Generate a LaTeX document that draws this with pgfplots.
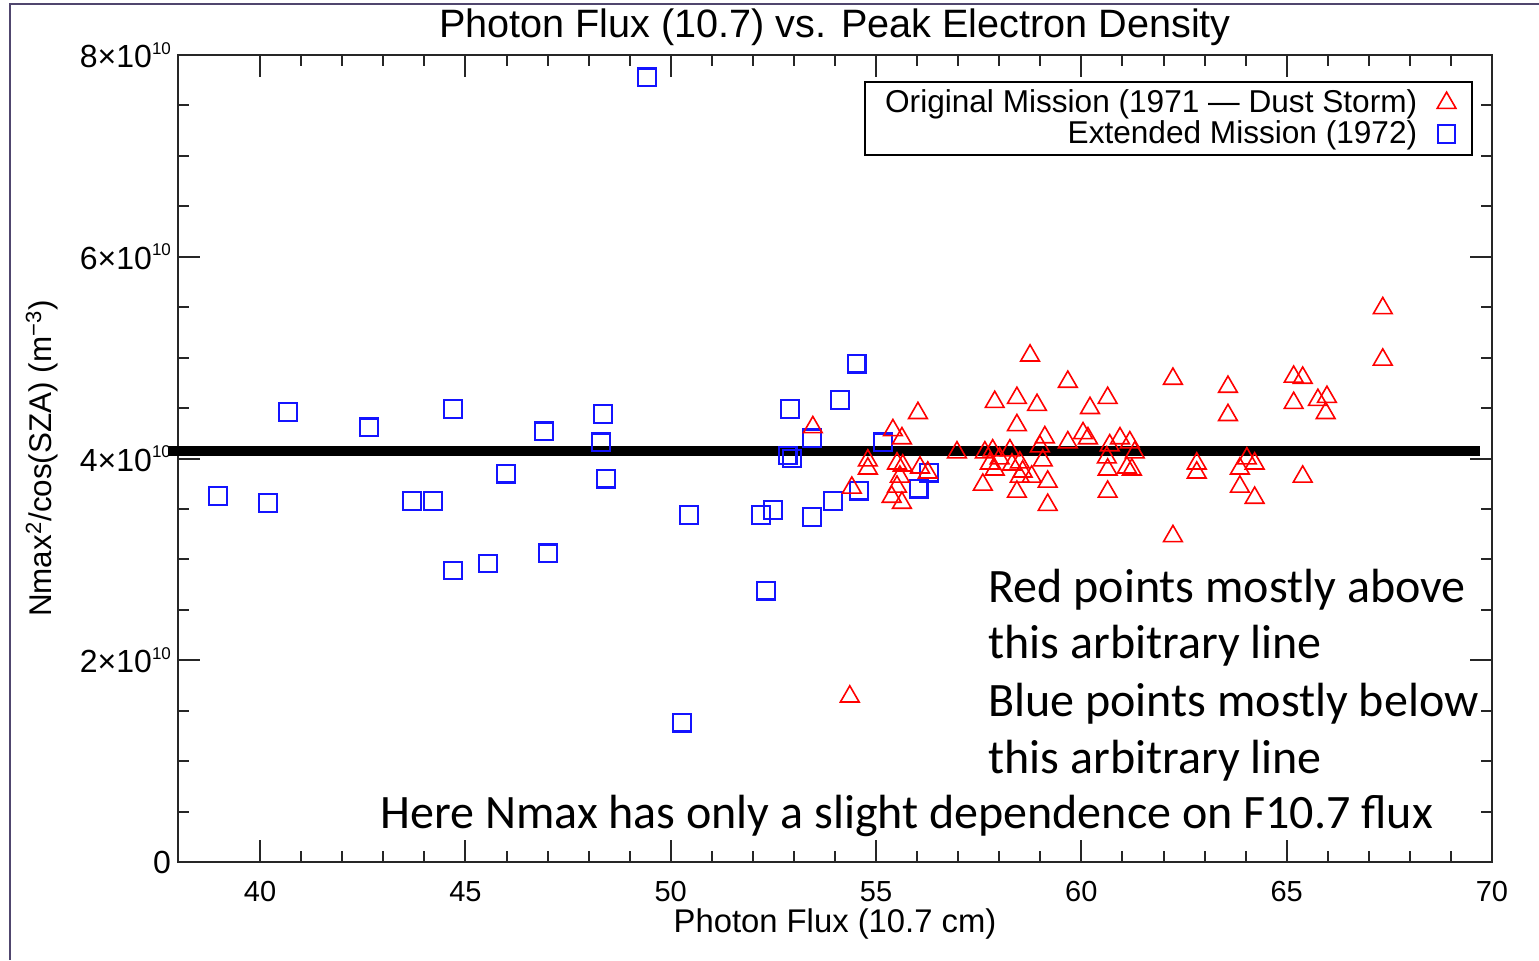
\documentclass[border=0pt]{standalone}
\usepackage{pgfplots}
\pgfplotsset{compat=1.18}
\usepackage{fontspec}
\setmainfont{Liberation Sans}
\newfontfamily\calibri{Carlito}
\definecolor{slideframe}{RGB}{80,70,110}
\definecolor{ptred}{RGB}{255,0,0}
\definecolor{ptblue}{RGB}{20,20,255}
\newcommand{\ytl}[1]{#1×10\raisebox{0.8ex}{\fontsize{8.5}{8.5}\selectfont 10}}
\begin{document}
\begin{tikzpicture}
\path[use as bounding box, fill=white] (0,0) rectangle (769.5pt,480pt);
\draw[slideframe, line width=1pt] (5pt,0) -- (5pt,478pt) -- (769.5pt,478pt);
\begin{axis}[
  at={(89pt,49pt)}, anchor=south west,
  width=657pt, height=403.5pt, scale only axis,
  xmin=38, xmax=70, ymin=0, ymax=8,
  xtick={40,45,...,70}, minor x tick num=4,
  ytick={0,2,4,6,8}, minor y tick num=3,
  yticklabels={0,\ytl{2},\ytl{4},\ytl{6},\ytl{8}},
  tick align=inside,
  major tick length=11pt, minor tick length=5.5pt,
  axis line style={line width=1pt, black!85},
  tick style={line width=1pt, black!85},
  tick label style={font=\fontsize{14.5}{14.5}\selectfont},
  yticklabel style={font=\fontsize{16}{16}\selectfont},
  /pgf/number format/assume math mode=true,
  xticklabel style={yshift=-6pt},
  clip=false,
  title={Photon Flux (10.7) vs. Peak Electron Density},
  every axis title/.style={font=\fontsize{19.8}{19.8}\selectfont, at={(axis description cs:0.5,1.0347)}, anchor=center},
  xlabel={Photon Flux (10.7 cm)},
  xlabel style={font=\fontsize{16.4}{16.4}\selectfont, at={(axis description cs:0.5,-0.0768)}, anchor=center},
  ylabel={Nmax\textsuperscript{2}/cos(SZA) (m\textsuperscript{−3})},
  ylabel style={font=\fontsize{15.7}{15.7}\selectfont, at={(axis description cs:-0.1035,0.5)}, anchor=center},
  legend style={at={(0.9855,0.9678)}, anchor=north east, draw=black, line width=1pt,
    font=\fontsize{15.8}{15.8}\selectfont, inner xsep=8pt, inner ysep=2pt, row sep=-1.5pt,
    /tikz/every odd column/.style={column sep=8pt}},
  legend cell align=right, legend plot pos=right, reverse legend,
]
\addplot[only marks, mark=square, mark size=4.4pt, ptblue, line width=1.1pt] table {
x y
38.97 3.63
40.19 3.56
40.68 4.46
42.65 4.31
43.70 3.58
44.21 3.58
44.70 4.49
44.70 2.89
45.55 2.96
45.99 3.85
46.91 4.27
47.01 3.06
48.35 4.44
48.30 4.16
48.42 3.80
49.42 7.78
50.27 1.38
50.44 3.44
52.20 3.44
52.32 2.69
52.49 3.49
52.85 4.03
52.95 4.00
52.90 4.49
53.44 3.42
53.44 4.20
53.95 3.58
54.12 4.58
54.53 4.94
54.58 3.68
55.17 4.16
56.04 3.70
56.29 3.86
};
\addlegendentry{Extended Mission (1972)}
\addplot[only marks, mark=triangle, mark size=5.4pt, ptred, line width=0.8pt] table {
x y
53.46 4.31
54.41 3.71
54.36 1.64
54.80 3.98
54.80 3.90
55.41 4.28
55.63 4.20
55.51 3.95
55.65 3.93
55.58 3.82
55.51 3.72
55.38 3.62
55.63 3.56
56.02 4.45
56.07 3.91
56.26 3.86
56.97 4.06
57.65 4.06
57.84 4.08
58.26 4.08
57.77 3.95
58.01 4.00
58.50 3.96
57.89 3.89
58.31 3.94
58.57 3.87
58.50 3.82
58.79 3.82
57.60 3.74
58.43 3.67
59.18 3.77
59.18 3.54
58.75 5.02
59.67 4.76
57.89 4.56
58.43 4.60
58.92 4.53
60.21 4.50
60.64 4.60
58.43 4.33
59.11 4.21
60.04 4.25
60.16 4.20
59.67 4.16
60.94 4.20
61.18 4.16
60.69 4.13
61.30 4.06
58.99 4.12
59.06 3.98
60.62 4.01
60.64 3.89
61.11 3.91
61.23 3.89
60.64 3.67
62.23 4.79
62.23 3.23
63.57 4.71
63.57 4.43
62.81 3.95
62.81 3.86
63.86 3.90
64.22 3.95
64.03 4.00
63.86 3.72
64.22 3.61
65.17 4.81
65.39 4.80
65.17 4.55
65.76 4.58
65.98 4.61
65.95 4.45
65.39 3.82
67.34 5.49
67.34 4.98
};
\addlegendentry{Original Mission (1971 — Dust Storm)}
\addplot[black, line width=5pt, forget plot] coordinates {(37.76,4.076) (69.70,4.076)};
\end{axis}
\begin{scope}[every node/.style={anchor=base west, inner sep=0pt, font=\calibri\fontsize{24}{28}\selectfont}]
\node at (494pt,178.5pt) {Red points mostly above};
\node at (494pt,150.5pt) {this arbitrary line};
\node at (494pt,121.5pt) {Blue points mostly below};
\node at (494pt,93pt) {this arbitrary line};
\node at (190pt,66pt) {Here Nmax has only a slight dependence on F10.7 flux};
\end{scope}
\end{tikzpicture}
\end{document}
